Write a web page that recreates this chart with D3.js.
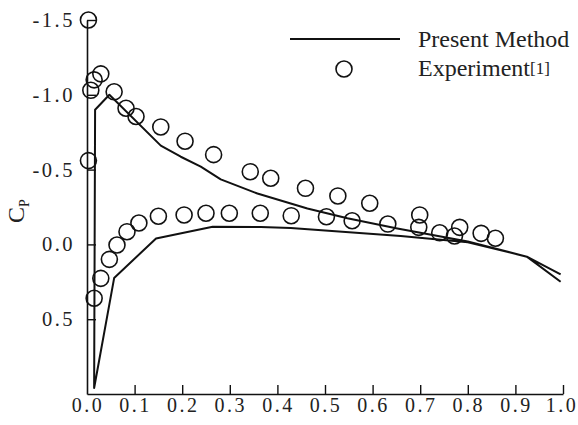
<!DOCTYPE html>
<html>
<head>
<meta charset="utf-8">
<script src="https://cdn.jsdelivr.net/npm/d3@7"></script>
<style>
  html, body { margin: 0; padding: 0; background: #fff; }
  svg { display: block; font-family: "Liberation Serif", "Times New Roman", serif; }
</style>
</head>
<body>
<svg id="chart"></svg>
<script>
const width = 578;
const height = 425;

// Present method: one closed curve, upper surface TE -> LE, then lower surface LE -> TE
const calcX  = [0.995, 0.924, 0.80, 0.652, 0.547, 0.463, 0.358, 0.281, 0.239, 0.197, 0.155, 0.047, 0.017, 0.015, 0.057, 0.145, 0.264, 0.365, 0.428, 0.659, 0.80, 0.924, 0.995];
const calcCp = [0.20, 0.082, -0.02, -0.107, -0.175, -0.24, -0.34, -0.435, -0.52, -0.586, -0.66, -1.00, -0.90, 0.96, 0.225, -0.04, -0.118, -0.117, -0.11, -0.056, -0.015, 0.082, 0.25];

// Experiment [1], upper surface
const expUpperX  = [0.003, 0.003, 0.008, 0.015, 0.029, 0.057, 0.082, 0.103, 0.155, 0.206, 0.266, 0.343, 0.386, 0.459, 0.527, 0.594, 0.699, 0.783, 0.828];
const expUpperCp = [-1.50, -0.56, -1.03, -1.10, -1.14, -1.02, -0.91, -0.855, -0.785, -0.69, -0.60, -0.486, -0.442, -0.375, -0.324, -0.275, -0.197, -0.114, -0.074];

// Experiment [1], lower surface
const expLowerX  = [0.015, 0.029, 0.047, 0.063, 0.084, 0.109, 0.150, 0.204, 0.250, 0.299, 0.364, 0.429, 0.503, 0.557, 0.632, 0.697, 0.741, 0.772, 0.858];
const expLowerCp = [0.36, 0.227, 0.10, 0.004, -0.085, -0.143, -0.188, -0.197, -0.208, -0.208, -0.208, -0.192, -0.185, -0.158, -0.136, -0.114, -0.078, -0.056, -0.041];

const xTicks = [0.1, 0.2, 0.3, 0.4, 0.5, 0.6, 0.7, 0.8, 0.9, 1.0];
const xLabels = [0.0, 0.1, 0.2, 0.3, 0.4, 0.5, 0.6, 0.7, 0.8, 0.9, 1.0];
const yTicks = [-1.5, -1.0, -0.5, 0.0, 0.5];

const legendNames = ["Present Method", "Experiment"];

const svg = d3.select("#chart")
  .attr("width", width)
  .attr("height", height);

const x = d3.scaleLinear().domain([0, 1]).range([87, 563]);
const y = d3.scaleLinear().domain([-1.5, 1.0]).range([20, 394]);

const fmt = d => d.toFixed(1);
const ink = "#111";

// axes
const xAxis = svg.append("g")
  .attr("transform", `translate(0,${y(1.0)})`)
  .call(d3.axisBottom(x).tickValues(xTicks).tickSizeInner(-9).tickSizeOuter(0).tickFormat(""));
xAxis.select(".domain").attr("stroke", ink).attr("stroke-width", 1.6);
xAxis.selectAll(".tick line").attr("stroke", ink).attr("stroke-width", 1.4);

svg.append("g").selectAll("text")
  .data(xLabels)
  .join("text")
  .attr("x", d => d === 1 ? x(d) - 1 : x(d) + 1)
  .attr("y", y(1.0) + 18)
  .attr("text-anchor", "middle")
  .attr("font-size", 20)
  .attr("letter-spacing", 2.5)
  .attr("fill", "#222")
  .text(fmt);

const yAxis = svg.append("g")
  .attr("transform", `translate(${x(0)},0)`)
  .call(d3.axisLeft(y).tickValues(yTicks).tickSizeInner(-9).tickSizeOuter(0).tickFormat(""));
yAxis.select(".domain").attr("stroke", ink).attr("stroke-width", 1.6);
yAxis.selectAll(".tick line").attr("stroke", ink).attr("stroke-width", 1.4);

svg.append("g").selectAll("text")
  .data(yTicks)
  .join("text")
  .attr("x", 75)
  .attr("y", d => y(d) + 7)
  .attr("text-anchor", "end")
  .attr("font-size", 20.5)
  .attr("letter-spacing", 2.5)
  .attr("fill", "#222")
  .text(fmt);

// y label C_P
const yl = svg.append("text")
  .attr("transform", "translate(24,223) rotate(-90)")
  .attr("font-size", 24)
  .attr("fill", "#222");
yl.append("tspan").text("C");
yl.append("tspan").attr("font-size", 14).attr("dy", 5).text("P");

// present method curve
const calc = calcX.map((v, i) => [v, calcCp[i]]);
const line = d3.line().x(d => x(d[0])).y(d => y(d[1]));
svg.append("path")
  .datum(calc)
  .attr("fill", "none")
  .attr("stroke", ink)
  .attr("stroke-width", 2)
  .attr("stroke-linejoin", "round")
  .attr("d", line);

// experiment circles
const exp = expUpperX.map((v, i) => [v, expUpperCp[i]])
  .concat(expLowerX.map((v, i) => [v, expLowerCp[i]]));
svg.append("g").selectAll("circle")
  .data(exp)
  .join("circle")
  .attr("cx", d => x(d[0]))
  .attr("cy", d => y(d[1]))
  .attr("r", 8)
  .attr("fill", "none")
  .attr("stroke", ink)
  .attr("stroke-width", 1.6);

// legend
const legend = svg.append("g");
legend.append("line")
  .attr("x1", 290).attr("x2", 400)
  .attr("y1", 39).attr("y2", 39)
  .attr("stroke", ink).attr("stroke-width", 2);
legend.append("text")
  .attr("x", 418).attr("y", 47)
  .attr("font-size", 24)
  .attr("fill", "#222")
  .text(legendNames[0]);
legend.append("circle")
  .attr("cx", 344).attr("cy", 69)
  .attr("r", 8)
  .attr("fill", "none")
  .attr("stroke", ink).attr("stroke-width", 1.6);
const lt = legend.append("text")
  .attr("x", 418).attr("y", 76)
  .attr("font-size", 24)
  .attr("fill", "#222");
lt.append("tspan").text(legendNames[1]);
lt.append("tspan").attr("font-size", 17).attr("dy", -2).text("[1]");
</script>
</body>
</html>
